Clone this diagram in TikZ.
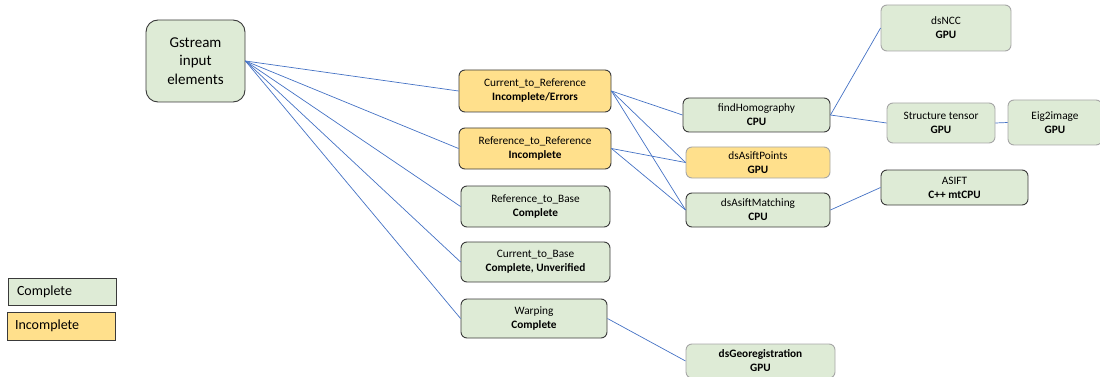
\documentclass[tikz,border=0pt]{standalone}
\usepackage{fontspec}
\setmainfont{Carlito}
\definecolor{donefill}{HTML}{DEEBD6}
\definecolor{todofill}{HTML}{FFE08C}
\definecolor{link}{HTML}{4472C4}
\definecolor{darkedge}{HTML}{3A3A3A}
\definecolor{lightedge}{HTML}{A6A6A6}
\tikzset{
  task/.style={draw=darkedge, line width=0.9pt, rounded corners=6pt, align=center,
    font=\fontsize{11.3}{14}\selectfont, inner sep=0pt},
  done/.style={task, fill=donefill},
  todo/.style={task, fill=todofill},
  soft/.style={draw=lightedge},
  legendbox/.style={draw=darkedge, line width=1pt, rounded corners=0pt, inner ysep=0pt,
    inner xsep=#1, text width=108pt-2*#1, align=left,
    font=\fontsize{14}{16}\selectfont},
  wire/.style={draw=link, line width=0.7pt}
}
\begin{document}
\begin{tikzpicture}[x=1pt,y=-1pt]
\useasboundingbox (0,0) rectangle (1100,377);
\begin{scope}
\clip (0,0) rectangle (1100,377);
% source
\node[done, rounded corners=12pt, minimum width=99pt, minimum height=82pt,
      font=\fontsize{15}{18.5}\selectfont] (gs) at (195.5,61) {Gstream\\input\\elements};
% pipeline stages
\node[todo, minimum width=152pt, minimum height=42pt] (c2r) at (535,91)
  {Current\_to\_Reference\\\textbf{Incomplete/Errors}};
\node[todo, minimum width=152pt, minimum height=41pt] (r2r) at (535,148.5)
  {Reference\_to\_Reference\\\textbf{Incomplete}};
\node[done, minimum width=149pt, minimum height=41pt] (r2b) at (535.5,206.5)
  {Reference\_to\_Base\\\textbf{Complete}};
\node[done, minimum width=149pt, minimum height=40pt] (c2b) at (535.5,262)
  {Current\_to\_Base\\\textbf{Complete, Unverified}};
\node[done, minimum width=146pt, minimum height=39pt] (warp) at (534,318.5)
  {Warping\\\textbf{Complete}};
% kernels
\node[done, minimum width=147pt, minimum height=34pt] (fh) at (756.5,115)
  {findHomography\\\textbf{CPU}};
\node[todo, soft, minimum width=144pt, minimum height=31pt] (dap) at (758,162.5)
  {dsAsiftPoints\\\textbf{GPU}};
\node[done, minimum width=144pt, minimum height=34pt] (dam) at (758,210)
  {dsAsiftMatching\\\textbf{CPU}};
\node[done, soft, minimum width=149pt, minimum height=34pt] (geo) at (760.5,361)
  {\textbf{dsGeoregistration}\\\textbf{GPU}};
\node[done, soft, minimum width=130pt, minimum height=46pt] (ncc) at (946,28)
  {dsNCC\\\textbf{GPU}};
\node[done, soft, minimum width=108pt, minimum height=40pt] (st) at (941,123)
  {Structure tensor\\\textbf{GPU}};
\node[done, soft, minimum width=94pt, minimum height=45pt] (eig) at (1055,122.5)
  {Eig2image\\\textbf{GPU}};
\node[done, minimum width=147pt, minimum height=35pt] (asift) at (954.5,187.5)
  {ASIFT\\\textbf{C++ mtCPU}};
% links
\foreach \t in {c2r,r2r,r2b,c2b,warp}
  \draw[wire] (gs.east) -- (\t.west);
\foreach \t in {fh,dap,dam}
  \draw[wire] (c2r.east) -- (\t.west);
\foreach \t in {dap,dam}
  \draw[wire] (r2r.east) -- (\t.west);
\draw[wire] (fh.east) -- (ncc.west);
\draw[wire] (fh.east) -- (st.west);
\draw[wire] (st.east) -- (eig.west);
\draw[wire] (dam.east) -- (asift.west);
\draw[wire] (warp.east) -- (geo.west);
% legend
\node[legendbox=9pt, fill=donefill, minimum height=27pt] (lgdone) at (62,291.5)
  {Complete};
\node[legendbox=8pt, fill=todofill, minimum height=28pt] (lgtodo) at (61,326)
  {Incomplete};
\end{scope}
\end{tikzpicture}
\end{document}
